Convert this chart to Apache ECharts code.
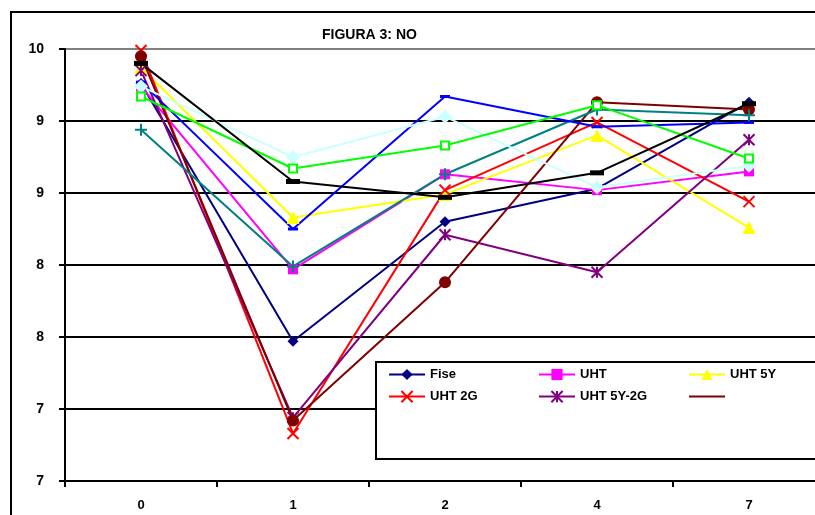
<!DOCTYPE html>
<html>
<head>
<meta charset="utf-8">
<script src="https://cdn.jsdelivr.net/npm/echarts@6/dist/echarts.min.js"></script>
<style>
html,body{margin:0;padding:0;background:#fff;overflow:hidden;}
/* the drawing surface runs a little past the window's right edge, so the
   plot area and legend box continue beyond the visible frame */
#chart{width:830px;height:515px;}
</style>
</head>
<body>
<div id="chart"></div>
<script>
// Days of storage (category axis)
const categories = ['0', '1', '2', '4', '7'];
// Value-axis labels, one per 0.5 step from 7 to 10
const yTickLabels = ['7', '7', '8', '8', '9', '9', '10'];

// Scores per sample
const fise      = [9.76, 7.97, 8.80, 9.03, 9.63];
const uht       = [9.74, 8.47, 9.13, 9.02, 9.15];
const uht5y     = [9.87, 8.83, 8.99, 9.40, 8.76];
const uht2g     = [9.99, 7.33, 9.02, 9.49, 8.94];
const uht5y2g   = [9.85, 7.44, 8.71, 8.45, 9.37];
const maroonSet = [9.95, 7.42, 8.38, 9.63, 9.58];
const tealSet   = [9.44, 8.49, 9.13, 9.58, 9.54];
const blueSet   = [9.77, 8.75, 9.67, 9.46, 9.49];
const cyanSet   = [9.74, 9.25, 9.53, 9.04, 9.19];
const greenSet  = [9.67, 9.17, 9.33, 9.61, 9.24];
const blackSet  = [9.90, 9.08, 8.97, 9.14, 9.62];

const FONT = 'Arial, "Liberation Sans", sans-serif';

const X_PATH = 'path://M0,0L10,10M10,0L0,10';
const STAR_PATH = 'path://M0,0L10,10M10,0L0,10M5,0L5,10';
const PLUS_PATH = 'path://M5,0L5,10M0,5L10,5';

function lineSeries(name, data, color, symbol, size, extraItem) {
  const s = {
    type: 'line',
    data: data,
    symbol: symbol,
    symbolSize: size,
    lineStyle: { color: color, width: 2 },
    itemStyle: Object.assign({ color: color, borderColor: color, borderWidth: 0, opacity: 1 }, extraItem || {}),
    emphasis: { disabled: true }
  };
  if (name !== null) s.name = name;
  return s;
}

const strokeMark = c => ({ color: c, borderColor: c, borderWidth: 2 });

const series = [
  lineSeries('Fise', fise, '#000080', 'diamond', 11),
  lineSeries('UHT', uht, '#FF00FF', 'rect', 10),
  lineSeries('UHT 5Y', uht5y, '#FFFF00', 'triangle', 13),
  lineSeries('UHT 2G', uht2g, '#FF0000', X_PATH, 11, strokeMark('#FF0000')),
  lineSeries('UHT 5Y-2G', uht5y2g, '#800080', STAR_PATH, 11, strokeMark('#800080')),
  lineSeries(' ', maroonSet, '#800000', 'circle', 12),
  lineSeries(null, tealSet, '#008080', PLUS_PATH, 12, strokeMark('#008080')),
  lineSeries(null, blueSet, '#0000FF', 'rect', [10, 3]),
  lineSeries(null, cyanSet, '#CCFFFF', 'diamond', 14),
  lineSeries(null, greenSet, '#00FF00', 'rect', 8, { color: '#FFFFFF', borderColor: '#00FF00', borderWidth: 2 }),
  lineSeries(null, blackSet, '#000000', 'rect', [14, 5])
];

const legendBase = {
  orient: 'vertical',
  top: 368,
  padding: 0,
  itemGap: 9,
  itemWidth: 36,
  itemHeight: 14,
  selectedMode: false,
  textStyle: { fontFamily: FONT, fontSize: 13, fontWeight: 'bold', color: '#000' }
};

const chart = echarts.init(document.getElementById('chart'), null, { renderer: 'canvas' });
chart.setOption({
  animation: false,
  backgroundColor: '#FFFFFF',
  title: {
    text: 'FIGURA 3: NO',
    left: 322,
    top: 28,
    padding: 0,
    textStyle: { fontFamily: FONT, fontSize: 14, fontWeight: 'bold', color: '#000' }
  },
  graphic: [
    {
      type: 'rect', z: -10, silent: true,
      shape: { x: 11, y: 12, width: 900, height: 600 },
      style: { fill: 'none', stroke: '#000', lineWidth: 2 }
    },
    {
      type: 'rect', z: 50, silent: true,
      shape: { x: 376, y: 362, width: 500, height: 97 },
      style: { fill: '#FFFFFF', stroke: '#000', lineWidth: 2 }
    }
  ],
  legend: [
    Object.assign({}, legendBase, { left: 388, z: 60, data: ['Fise', 'UHT 2G'] }),
    Object.assign({}, legendBase, { left: 538, z: 60, data: ['UHT', 'UHT 5Y-2G'] }),
    Object.assign({}, legendBase, { left: 688, z: 60, data: ['UHT 5Y', { name: ' ', itemStyle: { opacity: 0 } }] })
  ],
  grid: { left: 65, top: 49, right: 5, bottom: 34, containLabel: false },
  xAxis: {
    type: 'category',
    data: categories,
    boundaryGap: true,
    axisLine: { lineStyle: { color: '#000', width: 2 } },
    axisTick: { show: true, length: 6, lineStyle: { color: '#000', width: 2 } },
    axisLabel: { margin: 18, fontFamily: FONT, fontSize: 13, fontWeight: 'bold', color: '#000' },
    splitLine: { show: false }
  },
  yAxis: {
    type: 'value',
    min: 7,
    max: 10,
    interval: 0.5,
    axisLine: { show: true, lineStyle: { color: '#000', width: 2 } },
    axisTick: { show: true, length: 6, lineStyle: { color: '#000', width: 2 } },
    axisLabel: {
      margin: 21, fontFamily: FONT, fontSize: 14, fontWeight: 'bold', color: '#000',
      formatter: (v) => yTickLabels[Math.round((v - 7) / 0.5)]
    },
    splitLine: {
      show: true,
      lineStyle: { color: ['#000', '#000', '#000', '#000', '#000', '#000', '#808080'], width: 2 }
    }
  },
  series: series
});
</script>
</body>
</html>
